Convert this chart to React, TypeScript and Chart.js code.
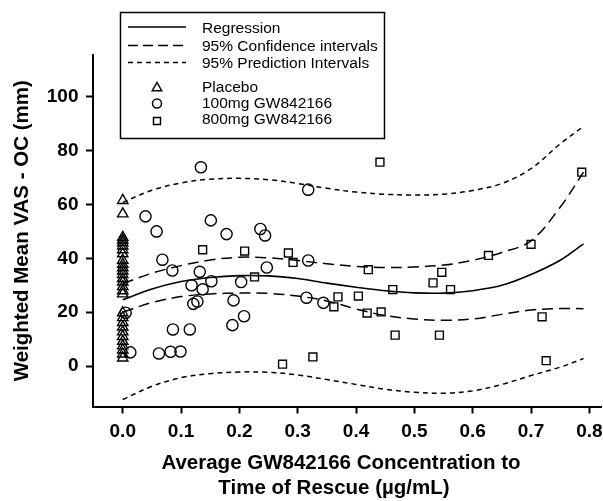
import React, { useEffect, useRef } from "react";
import { Chart, registerables } from "chart.js";

Chart.register(...registerables);

// ---- Data ----
const placeboConc = [0, 0, 0, 0, 0, 0, 0, 0, 0, 0, 0, 0, 0, 0, 0, 0, 0, 0, 0, 0, 0, 0, 0, 0, 0, 0, 0, 0, 0];
const placeboVas = [61.5, 56.5, 47.8, 46.8, 45.8, 44.6, 43.2, 41.7, 39.3, 37.8, 36.5, 35.3, 34, 32.5, 31.2, 29.5, 28, 26.8, 19.8, 18, 16.2, 14.5, 12.7, 11, 9.2, 7.5, 6, 4.5, 3];

const dose100Conc = [0.005, 0.013, 0.039, 0.058, 0.062, 0.068, 0.082, 0.085, 0.086, 0.099, 0.115, 0.118, 0.121, 0.128, 0.132, 0.134, 0.137, 0.151, 0.152, 0.178, 0.188, 0.19, 0.203, 0.208, 0.236, 0.244, 0.247, 0.315, 0.318, 0.318, 0.344];
const dose100Vas = [19.8, 5.1, 55.6, 50.0, 4.7, 39.5, 5.3, 35.5, 13.6, 5.4, 13.6, 30.0, 23.1, 24.0, 35.0, 73.8, 28.5, 54.1, 31.5, 49.0, 15.2, 24.4, 31.2, 18.5, 50.9, 48.5, 36.6, 25.4, 39.2, 65.5, 23.5];

const dose800Conc = [0.137, 0.209, 0.226, 0.274, 0.284, 0.292, 0.326, 0.362, 0.369, 0.404, 0.419, 0.421, 0.441, 0.443, 0.463, 0.467, 0.532, 0.543, 0.547, 0.562, 0.627, 0.7, 0.719, 0.726, 0.787];
const dose800Vas = [43.2, 42.7, 33.1, 0.7, 42.0, 38.5, 3.4, 22.0, 25.7, 26.0, 19.7, 35.8, 75.7, 20.1, 28.4, 11.5, 30.9, 11.5, 34.8, 28.4, 41.1, 45.2, 18.3, 2.0, 72.0];

const curveConc = [0, 0.05, 0.1, 0.15, 0.2, 0.25, 0.3, 0.35, 0.4, 0.45, 0.5, 0.55, 0.6, 0.65, 0.7, 0.75, 0.79];
const regression = [24.6, 28.6, 31.4, 32.9, 33.6, 33.5, 32.5, 30.8, 29.3, 28, 27.2, 27.1, 28, 30, 34, 39.3, 45.4];
const confUpper = [30.6, 34.5, 37.3, 39.4, 40.4, 40.2, 39.2, 38, 37, 36.6, 36.8, 37.5, 39.3, 42.2, 46.5, 59, 72];
const confLower = [20, 23.6, 25.8, 26.8, 27.1, 27, 26, 24.2, 21.2, 18.8, 17.5, 17, 17.5, 19.2, 20.8, 21.4, 21.3];
const predUpper = [60.8, 65.3, 68, 69.4, 69.7, 69.2, 67.8, 66, 64.6, 63.8, 63.5, 63.8, 65.2, 67.8, 73.3, 82.5, 89];
const predLower = [-12.4, -7.5, -4.3, -2.8, -2.2, -2.3, -3.3, -5, -6.8, -8.6, -9.7, -10.1, -9.2, -6.8, -3.5, -0.4, 2.8];

const xTicks = [0, 0.1, 0.2, 0.3, 0.4, 0.5, 0.6, 0.7, 0.8];
const yTicks = [0, 20, 40, 60, 80, 100];

const xTitle = ["Average GW842166 Concentration to", "Time of Rescue (\u00b5g/mL)"];
const yTitle = "Weighted Mean VAS - OC (mm)";

const legendLines = ["Regression", "95% Confidence intervals", "95% Prediction Intervals"];
const legendMarkers = ["Placebo", "100mg GW842166", "800mg GW842166"];

const FONT = "'Liberation Sans', Arial, Helvetica, sans-serif";

const pts = (xs: number[], ys: number[]) => xs.map((x, i) => ({ x, y: ys[i] }));

const legendPlugin = {
  id: "boxLegend",
  afterDraw(chart: any) {
    const ctx = chart.ctx as CanvasRenderingContext2D;
    ctx.save();
    ctx.strokeStyle = "#000";
    ctx.fillStyle = "#000";
    ctx.lineWidth = 1.5;
    ctx.setLineDash([]);
    ctx.strokeRect(120.5, 12.5, 264, 126);
    const lineYs = [27, 45.5, 62.5];
    const dashes = [[], [10, 5], [5, 4]];
    lineYs.forEach((y, i) => {
      ctx.beginPath();
      ctx.setLineDash(dashes[i]);
      ctx.lineWidth = 1.5;
      ctx.moveTo(128, y);
      ctx.lineTo(186, y);
      ctx.stroke();
    });
    ctx.setLineDash([]);
    ctx.font = "15.5px " + FONT;
    ctx.textBaseline = "middle";
    ctx.textAlign = "left";
    const textYs = [29, 47, 63.5, 88, 103.5, 119.5];
    [...legendLines, ...legendMarkers].forEach((t, i) => ctx.fillText(t, 202, textYs[i]));
    // markers
    const mx = 157;
    ctx.lineWidth = 1.5;
    const r = 5.5;
    const ty = 88;
    ctx.beginPath();
    ctx.moveTo(mx, ty - r);
    ctx.lineTo(mx + r * 0.866, ty + r * 0.5);
    ctx.lineTo(mx - r * 0.866, ty + r * 0.5);
    ctx.closePath();
    ctx.stroke();
    ctx.beginPath();
    ctx.arc(mx, 103.5, 4.5, 0, Math.PI * 2);
    ctx.stroke();
    ctx.strokeRect(mx - 3.5, 117.5, 7, 7);

    // x-axis title (two centred lines)
    ctx.font = "bold 20.5px " + FONT;
    ctx.textAlign = "center";
    ctx.fillText(xTitle[0], 341, 463.5);
    ctx.fillText(xTitle[1], 334, 488.5);
    ctx.restore();
  },
};

export default function App() {
  const ref = useRef<HTMLCanvasElement | null>(null);
  useEffect(() => {
    if (!ref.current) return;
    const lineDs = (label: string, ys: number[], dash: number[], width: number) => ({
      label,
      data: pts(curveConc, ys),
      showLine: true,
      borderColor: "#000",
      borderWidth: width,
      borderDash: dash,
      pointRadius: 0,
      fill: false,
      tension: 0.35,
    });
    const chart = new Chart(ref.current, {
      type: "scatter",
      data: {
        datasets: [
          lineDs("Regression", regression, [], 1.6),
          lineDs("95% CI upper", confUpper, [11, 6], 1.5),
          lineDs("95% CI lower", confLower, [11, 6], 1.5),
          lineDs("95% PI upper", predUpper, [5, 4], 1.5),
          lineDs("95% PI lower", predLower, [5, 4], 1.5),
          {
            label: "Placebo",
            data: pts(placeboConc, placeboVas),
            pointStyle: "triangle",
            pointRadius: 6,
            borderColor: "#000",
            backgroundColor: "rgba(255,255,255,0)",
            pointBorderWidth: 1.4,
          },
          {
            label: "100mg GW842166",
            data: pts(dose100Conc, dose100Vas),
            pointStyle: "circle",
            pointRadius: 5.6,
            borderColor: "#000",
            backgroundColor: "rgba(255,255,255,0)",
            pointBorderWidth: 1.4,
          },
          {
            label: "800mg GW842166",
            data: pts(dose800Conc, dose800Vas),
            pointStyle: "rect",
            pointRadius: 5.6,
            borderColor: "#000",
            backgroundColor: "rgba(255,255,255,0)",
            pointBorderWidth: 1.4,
          },
        ],
      },
      options: {
        animation: false,
        responsive: false,
        maintainAspectRatio: false,
        layout: { padding: { top: 55, right: 24, left: 0, bottom: 0 } },
        plugins: { legend: { display: false }, tooltip: { enabled: false } },
        scales: {
          x: {
            type: "linear",
            min: -0.051,
            max: 0.82,
            afterFit: (s: any) => {
              s.height = 94.5;
            },
            afterBuildTicks: (s: any) => {
              s.ticks = xTicks.map((v) => ({ value: v }));
            },
            grid: { drawOnChartArea: false, drawTicks: true, tickLength: 7, tickWidth: 2, tickColor: "#000" },
            border: { display: true, color: "#000", width: 2 },
            ticks: {
              color: "#000",
              padding: 7,
              maxRotation: 0,
              autoSkip: false,
              font: { family: FONT, size: 19, weight: "bold" },
              callback: (v: any) => Number(v).toFixed(1),
            },
            title: { display: false, text: xTitle },
          },
          y: {
            type: "linear",
            min: -15,
            max: 115.5,
            afterFit: (s: any) => {
              s.width = 93;
            },
            afterBuildTicks: (s: any) => {
              s.ticks = yTicks.map((v) => ({ value: v }));
            },
            grid: { drawOnChartArea: false, drawTicks: true, tickLength: 7, tickWidth: 2, tickColor: "#000" },
            border: { display: true, color: "#000", width: 2 },
            ticks: {
              color: "#000",
              padding: 7.5,
              font: { family: FONT, size: 19, weight: "bold" },
              callback: (v: any) => String(v),
            },
            title: {
              display: true,
              text: yTitle,
              color: "#000",
              font: { family: FONT, size: 20.5, weight: "bold", lineHeight: 1.2 },
              padding: { top: 10, bottom: 0 },
            },
          },
        },
      },
      plugins: [legendPlugin],
    });
    return () => chart.destroy();
  }, []);

  return (
    <div style={{ position: "fixed", left: 0, top: 0, width: 603, height: 501, overflow: "hidden", background: "#fff" }}>
      <canvas ref={ref} width={625} height={501} style={{ display: "block", width: 625, height: 501 }} />
    </div>
  );
}
